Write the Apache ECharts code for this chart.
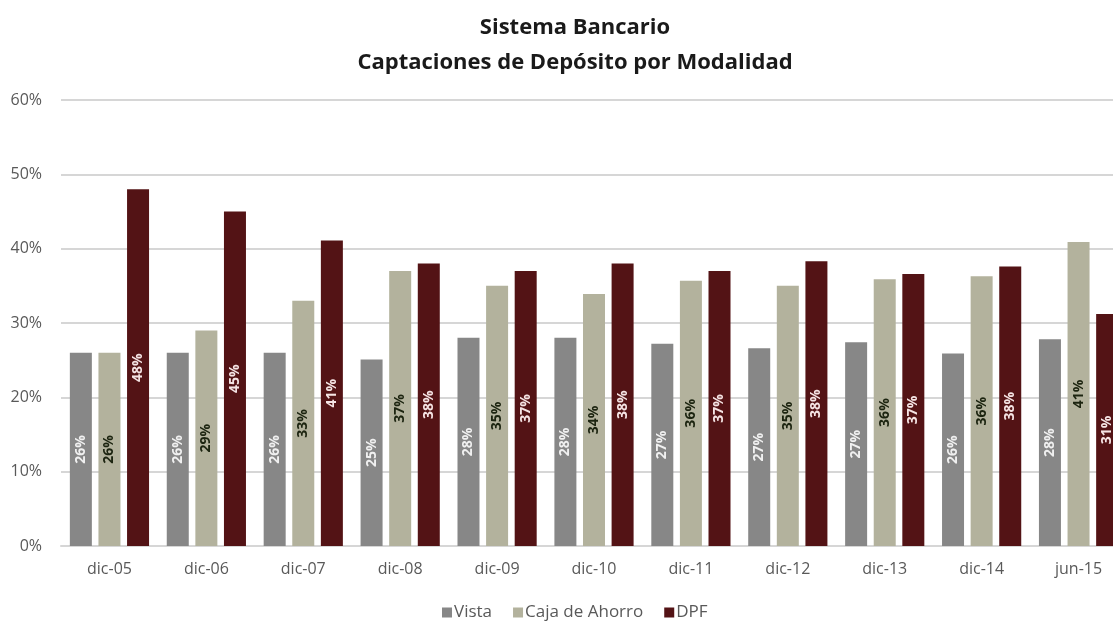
<!DOCTYPE html>
<html>
<head>
<meta charset="utf-8">
<script src="https://cdn.jsdelivr.net/npm/echarts@6/dist/echarts.min.js"></script>
<style>html,body{margin:0;padding:0;background:#fff;}#c{width:1113px;height:621px;}</style>
</head>
<body>
<div id="c"></div>
<script>
const categories = ['dic-05','dic-06','dic-07','dic-08','dic-09','dic-10','dic-11','dic-12','dic-13','dic-14','jun-15'];
const vista = [26.0, 26.0, 26.0, 25.1, 28.0, 28.0, 27.2, 26.6, 27.4, 25.9, 27.8];
const cajaAhorro = [26.0, 29.0, 33.0, 37.0, 35.0, 33.9, 35.7, 35.0, 35.9, 36.3, 40.9];
const dpf = [48.0, 45.0, 41.1, 38.0, 37.0, 38.0, 37.0, 38.3, 36.6, 37.6, 31.2];
const yTicks = [0, 10, 20, 30, 40, 50, 60];

const chart = echarts.init(document.getElementById('c'));
const font = 'Open Sans, Lato, sans-serif';
function lbl(color) {
  return {
    show: true, position: 'inside', rotate: 90,
    formatter: p => Math.round(p.value) + '%',
    color: color, fontSize: 14, fontWeight: 'bold', fontFamily: font
  };
}
chart.setOption({
  animation: false,
  backgroundColor: '#ffffff',
  title: {
    text: 'Sistema Bancario\nCaptaciones de Depósito por Modalidad',
    left: 570, top: 5, textAlign: 'center',
    textStyle: { fontSize: 22, fontWeight: 'bold', color: '#1a1a1a', fontFamily: font, lineHeight: 35 }
  },
  legend: {
    top: 599, left: 437, itemWidth: 10, itemHeight: 10, itemGap: 21,
    icon: 'rect',
    textStyle: { color: '#595959', fontSize: 17, fontFamily: font, padding: [0, 0, 0, -3] },
    data: ['Vista', 'Caja de Ahorro', 'DPF']
  },
  grid: { left: 61, top: 100, width: 1066, height: 446, containLabel: false, outerBoundsMode: 'none' },
  xAxis: {
    type: 'category', data: categories,
    axisLine: { lineStyle: { color: '#d6d6d6', width: 2 } },
    axisTick: { show: false },
    axisLabel: { color: '#595959', fontSize: 16, fontFamily: font, margin: 15 }
  },
  yAxis: {
    type: 'value', min: 0, max: 60, interval: 10,
    axisLabel: { formatter: v => yTicks.includes(v) ? v + '%' : '', color: '#595959', fontSize: 16, fontFamily: font, margin: 19 },
    splitLine: { lineStyle: { color: '#d6d6d6', width: 2 } },
    axisLine: { show: false }, axisTick: { show: false }
  },
  series: [
    { name: 'Vista', type: 'bar', data: vista, barWidth: 22, barGap: '30%',
      itemStyle: { color: '#878787' }, label: lbl('#f0f0f0') },
    { name: 'Caja de Ahorro', type: 'bar', data: cajaAhorro, barWidth: 22, barGap: '30%',
      itemStyle: { color: '#b3b29d' }, label: lbl('#1c2410') },
    { name: 'DPF', type: 'bar', data: dpf, barWidth: 22, barGap: '30%',
      itemStyle: { color: '#531315' }, label: lbl('#f5e4e4') }
  ]
});
</script>
</body>
</html>
